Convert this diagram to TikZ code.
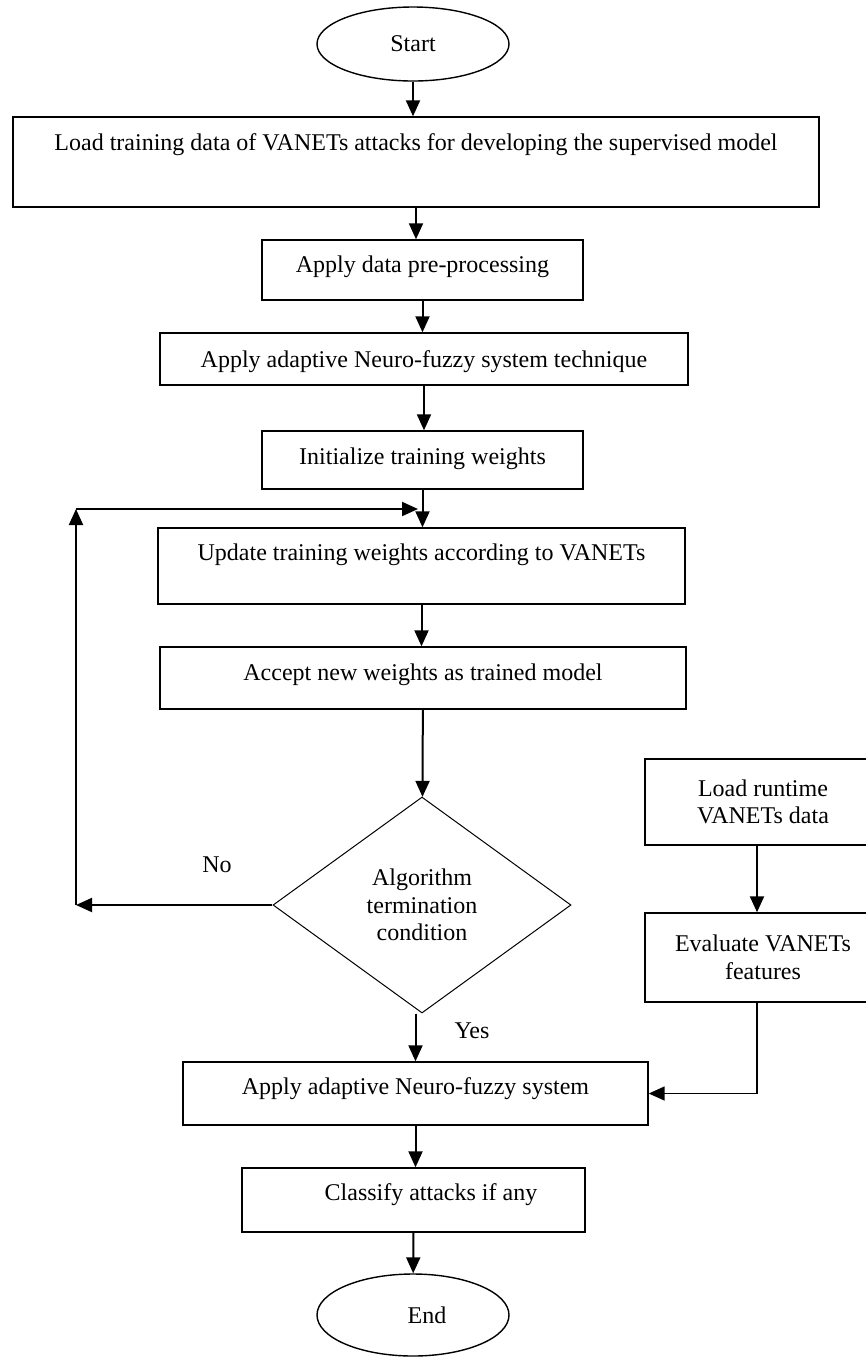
\documentclass[tikz,border=0pt]{standalone}
\usepackage{fontspec}
\setmainfont{Liberation Serif}
\usetikzlibrary{arrows.meta,shapes.geometric}

\begin{document}
\begin{tikzpicture}[x = 0.5pt, y = -0.5pt, line width = 1pt,
                        font = \fontsize{12}{13.8}\selectfont,
                        box/.style = {rectangle, draw, line width = 0.7pt, inner sep = 0pt, align = center},
                        sidebox/.style = {rectangle, draw, line width = 0.7pt, inner sep = 0pt, align = center, minimum width = 118pt},
                        term/.style = {ellipse, draw, line width = 0.7pt, minimum width = 96pt},
                        decision/.style = {diamond, draw, line width = 0.5pt, aspect = 1.38, inner sep = 0pt, align = center,
                                           minimum width = 149pt, minimum height = 108pt},
                        arrow/.style = {-{Triangle[length = 8pt, width = 7pt]}, line width = 1pt}]
      \useasboundingbox (0, 0) rectangle (866, 1357);
      \node [term, minimum height = 37pt] (start) at (413, 44){Start};
      \node [box, minimum width = 403pt, text height = 16.5pt, text depth = 28.5pt] (load) at (416, 162){Load training data of VANETs attacks for developing the supervised model};
      \node [box, minimum width = 160.5pt, text height = 16pt, text depth = 14pt] (prep) at (422.5, 270){Apply data pre-processing};
      \node [box, minimum width = 264pt, text height = 17pt, text depth = 9pt] (anfis) at (424, 359){Apply adaptive Neuro-fuzzy system technique};
      \node [box, minimum width = 160.5pt, text height = 16.5pt, text depth = 12.5pt] (init) at (422.5, 460){Initialize training weights};
      \node [box, minimum width = 263.5pt, text height = 16pt, text depth = 22pt] (update) at (421.5, 566){Update training weights according to VANETs};
      \node [box, minimum width = 263pt, text height = 16.5pt, text depth = 14.5pt] (accept) at (423, 678){Accept new weights as trained model};
      \node [decision] (cond) at (422, 905){Algorithm\\termination\\condition};
      \node [box, minimum width = 232.5pt, text height = 16pt, text depth = 15.5pt] (apply) at (415.5, 1093.5){Apply adaptive Neuro-fuzzy system};
      \node [box, minimum width = 171.5pt, text height = 16pt, text depth = 16pt] (classify) at (413.5, 1200){\hspace*{17.5pt}Classify attacks if any};
      \node [term, minimum height = 41pt] (end) at (413, 1315){\hspace*{14pt}End};
      \node [sidebox, minimum height = 43pt] (runtime) at (763, 802){Load runtime\\VANETs data};
      \node [sidebox, minimum height = 44.5pt] (features) at (763, 957.5){Evaluate VANETs\\features};
      \node (no) at (217, 865){No};
      \node (yes) at (472, 1031){Yes};
      \coordinate (loopbot) at (76, 905);
      \coordinate (looptop) at (76, 509);
      \coordinate (loopend) at (418, 509);
      \draw [arrow] (start) -- (start |- load.north);
      \draw [arrow] (load) -- (load |- prep.north);
      \draw [arrow] (prep) -- (prep |- anfis.north);
      \draw [arrow] (anfis) -- (anfis |- init.north);
      \draw [arrow] (init) -- (init |- update.north);
      \draw [arrow] (update) -- (update |- accept.north);
      \draw [arrow] (accept) -- (cond);
      \draw [arrow] (cond) -- (loopbot);
      \draw [arrow] (loopbot) -- (looptop);
      \draw [arrow] (looptop) -- (loopend);
      \draw [arrow] (cond.south -| apply) -- (apply);
      \draw [arrow] (apply) -- (apply |- classify.north);
      \draw [arrow] (classify) -- (end);
      \draw [arrow] ([xshift = -3pt]runtime.south) -- ([xshift = -3pt]features.north);
      \draw [arrow, line width = 0.8pt] ([xshift = -3pt]features.south) |- (apply);
    \end{tikzpicture}
\end{document}
